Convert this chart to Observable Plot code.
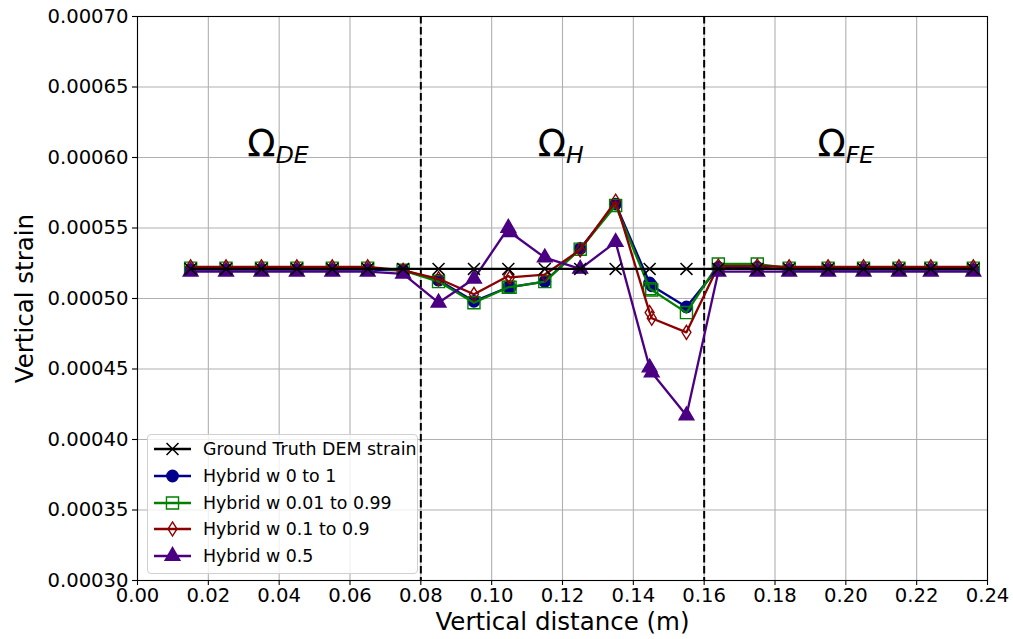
<!DOCTYPE html>
<html>
<head>
<meta charset="utf-8">
<script src="https://cdn.jsdelivr.net/npm/d3@7"></script>
<script src="https://cdn.jsdelivr.net/npm/@observablehq/plot@0.6"></script>
<style>
  html, body { margin: 0; padding: 0; background: white; }
  #wrap { position: relative; width: 1013px; height: 639px; font-family: "DejaVu Sans", sans-serif; }
  #legend { position: absolute; left: 147px; top: 434px; width: 271px; height: 140px;
    border: 1px solid #d0d0d0; border-radius: 4px; background: rgba(255,255,255,0.8); box-sizing: border-box; }
  .row { position: absolute; left: 0; height: 20px; }
  .row svg { position: absolute; left: 5px; top: 0; }
  .row span { position: absolute; left: 55px; top: -1px; font-size: 17.4px; white-space: nowrap; line-height: 22px; color: black; }
</style>
</head>
<body>
<div id="wrap"><div id="legend"></div></div>
<script>
// ---- data ----
const xPos = [0.015, 0.025, 0.035, 0.045, 0.055, 0.065, 0.075, 0.085, 0.095, 0.1047, 0.1052, 0.115, 0.125, 0.135, 0.1446, 0.1452, 0.155, 0.164, 0.175, 0.184, 0.195, 0.205, 0.215, 0.224, 0.236];
const groundTruth = [0.000521,0.000521,0.000521,0.000521,0.000521,0.000521,0.000521,0.000521,0.000521,0.000521,null,0.000521,0.000521,0.000521,0.000521,null,0.000521,0.000521,0.000521,0.000521,0.000521,0.000521,0.000521,0.000521,0.000521];
const hybrid0to1 = [0.0005205,0.0005205,0.0005205,0.0005205,0.0005205,0.0005205,0.00052,0.000513,0.000498,0.000508,0.000508,0.000512,0.0005355,0.000567,0.000511,0.000509,0.000494,0.000522,0.000522,0.0005205,0.0005205,0.0005205,0.0005205,0.0005205,0.0005205];
const hybrid001to099 = [0.0005215,0.0005215,0.0005215,0.0005215,0.0005215,0.0005215,0.00052,0.000512,0.000497,0.000508,0.000508,0.000512,0.000535,0.000566,0.000507,0.000506,0.00049,0.0005245,0.0005245,0.0005215,0.0005215,0.0005215,0.0005215,0.0005215,0.0005215];
const hybrid01to09 = [0.0005225,0.0005225,0.0005225,0.0005225,0.0005225,0.0005225,0.00052,0.000514,0.000503,0.000516,0.000515,0.000517,0.0005345,0.000569,0.00049,0.000486,0.000476,0.000523,0.000523,0.0005225,0.0005225,0.0005225,0.0005225,0.0005225,0.0005225];
const hybrid05 = [0.000519,0.000519,0.000519,0.000519,0.000519,0.000519,0.0005175,0.000497,0.000514,0.00055,0.000547,0.000529,0.000521,0.00054,0.000451,0.0004475,0.000417,0.000519,0.000519,0.000519,0.000519,0.000519,0.000519,0.000519,0.000519];
const seriesNames = ["Ground Truth DEM strain", "Hybrid w 0 to 1", "Hybrid w 0.01 to 0.99", "Hybrid w 0.1 to 0.9", "Hybrid w 0.5"];
const xTicks = [0, 0.02, 0.04, 0.06, 0.08, 0.10, 0.12, 0.14, 0.16, 0.18, 0.20, 0.22, 0.24];
const yTicks = [0.00030, 0.00035, 0.00040, 0.00045, 0.00050, 0.00055, 0.00060, 0.00065, 0.00070];
const regionBounds = [0.08, 0.16];
const regionSubs = ["DE", "H", "FE"];
const regionX = [0.039, 0.121, 0.2];
const regionY = 0.0006;

// ---- styles ----
const thinDiamond = {
  draw(ctx, size) {
    const s = Math.sqrt(size);
    const h = s * 0.66, w = s * 0.42;
    ctx.moveTo(0, -h); ctx.lineTo(w, 0); ctx.lineTo(0, h); ctx.lineTo(-w, 0); ctx.closePath();
  }
};
const styles = [
  {stroke: "black", symbol: "times", fill: "none", r: 5.5},
  {stroke: "#00008b", symbol: "circle", fill: "#00008b", r: 5.7},
  {stroke: "#008000", symbol: "square", fill: "none", r: 6.8},
  {stroke: "#8b0000", symbol: thinDiamond, fill: "none", r: 6},
  {stroke: "#4b0082", symbol: "triangle", fill: "#4b0082", r: 5.5}
];
const allSeries = [groundTruth, hybrid0to1, hybrid001to099, hybrid01to09, hybrid05];
const tables = allSeries.map(arr => xPos.map((x, i) => ({x, y: arr[i]})).filter(d => d.y != null));

function seriesMarks(k) {
  const st = styles[k];
  return [
    Plot.line(tables[k], {x: "x", y: "y", stroke: st.stroke, strokeWidth: 2.3}),
    Plot.dot(tables[k], {x: "x", y: "y", symbol: () => st.symbol, stroke: st.stroke, fill: st.fill, r: st.r, strokeWidth: k === 0 ? 1.5 : 1.4})
  ];
}

const chart = Plot.plot({
  width: 1013, height: 639,
  marginLeft: 137, marginRight: 26, marginTop: 16, marginBottom: 59,
  style: {fontFamily: "DejaVu Sans", fontSize: "19.6px", color: "black", background: "white", overflow: "visible"},
  x: {domain: [0, 0.24]},
  y: {domain: [0.0003, 0.0007]},
  symbol: {type: "identity"},
  marks: [
    Plot.gridX(xTicks, {stroke: "#b0b0b0", strokeOpacity: 1, strokeWidth: 1.1}),
    Plot.gridY(yTicks, {stroke: "#b0b0b0", strokeOpacity: 1, strokeWidth: 1.1}),
    Plot.ruleX(regionBounds, {stroke: "black", strokeWidth: 2, strokeDasharray: "7.5,3.5"}),
    Plot.axisX(xTicks, {tickFormat: d3.format(".2f"), tickSize: 5, tickPadding: 3, fontSize: 19.6, label: null, strokeWidth: 1.1}),
    Plot.axisY(yTicks, {tickFormat: d3.format(".5f"), tickSize: 5, tickPadding: 4, fontSize: 19.6, label: null, strokeWidth: 1.1}),
    Plot.text(regionX, {x: d => d, y: () => regionY, text: () => "Ω", textAnchor: "end", lineAnchor: "bottom", fontSize: 37, dy: -2, fill: "black"}),
    Plot.text(regionX, {x: d => d, y: () => regionY, text: (d, i) => regionSubs[i], textAnchor: "start", lineAnchor: "bottom", fontSize: 23.5, fontStyle: "italic", dy: 5, fill: "black"}),
    ...seriesMarks(1), ...seriesMarks(2), ...seriesMarks(3), ...seriesMarks(4), ...seriesMarks(0),
    Plot.frame({stroke: "black", strokeWidth: 1.1}),
    Plot.text(["Vertical distance (m)"], {frameAnchor: "bottom", textAnchor: "middle", lineAnchor: "middle", dy: 42, fontSize: 24.5, fill: "black"}),
    Plot.text(["Vertical strain"], {frameAnchor: "left", textAnchor: "middle", lineAnchor: "middle", rotate: -90, dx: -112, fontSize: 24.5, fill: "black"})
  ]
});
document.getElementById("wrap").prepend(chart);

// ---- legend ----
const legend = document.getElementById("legend");
const rowTops = [4, 31, 58, 84, 111];
seriesNames.forEach((name, k) => {
  const st = styles[k];
  const row = document.createElement("div");
  row.className = "row";
  row.style.top = rowTops[k] + "px";
  const svg = d3.create("svg").attr("width", 40).attr("height", 20);
  svg.append("line").attr("x1", 1).attr("x2", 38).attr("y1", 10).attr("y2", 10).attr("stroke", st.stroke).attr("stroke-width", 2.3);
  const symType = typeof st.symbol === "string"
    ? {times: d3.symbolTimes, circle: d3.symbolCircle, square: d3.symbolSquare, triangle: d3.symbolTriangle}[st.symbol]
    : st.symbol;
  svg.append("path").attr("transform", "translate(19.5,10)")
    .attr("d", d3.symbol(symType, Math.PI * st.r * st.r)())
    .attr("stroke", st.stroke).attr("fill", st.fill).attr("stroke-width", k === 0 ? 1.5 : 1.4);
  row.appendChild(svg.node());
  const span = document.createElement("span");
  span.textContent = name;
  row.appendChild(span);
  legend.appendChild(row);
});
</script>
</body>
</html>
